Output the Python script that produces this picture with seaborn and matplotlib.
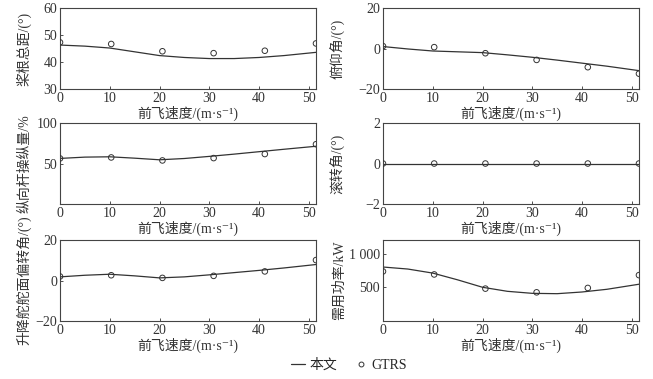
import numpy as np
import pandas as pd
import seaborn as sns
import matplotlib.pyplot as plt
from matplotlib.lines import Line2D
from matplotlib.transforms import ScaledTranslation

sns.set_style("ticks")
plt.rcParams['font.family'] = ['Liberation Serif', 'Noto Sans CJK SC', 'DejaVu Serif']

# скорости полёта (0..100 уз в м/с)
speed_pts = [0, 10.29, 20.58, 30.87, 41.16, 51.44]
speed_line = [0, 5, 10, 15, 20, 25, 30, 35, 40, 45, 51.44]

# данные GTRS (точки)
collective_pts = [47.3, 46.7, 44.0, 43.3, 44.2, 46.9]
pitch_pts = [1.2, 0.7, -2.3, -5.6, -9.2, -12.4]
stick_pts = [56.3, 57.5, 53.8, 56.7, 61.7, 73.8]
roll_pts = [0, 0, 0, 0, 0, 0]
elevator_pts = [2.0, 2.6, 1.3, 2.3, 4.5, 10.1]
power_pts = [735, 690, 480, 425, 490, 680]

# расчёт (линии)
collective_line = [46.3, 45.9, 45.2, 43.8, 42.4, 41.7, 41.3, 41.3, 41.7, 42.4, 43.6]
pitch_line = [1.0, -0.2, -1.2, -1.6, -2.0, -3.1, -4.3, -5.7, -7.2, -8.7, -10.9]
stick_line = [56.3, 57.9, 58.3, 56.6, 54.6, 56.2, 58.8, 61.6, 64.6, 67.6, 71.3]
roll_line = [0, 0, 0, 0, 0, 0, 0, 0, 0, 0, 0]
elevator_line = [1.8, 2.6, 3.1, 2.3, 1.3, 1.8, 2.8, 3.9, 5.0, 6.2, 7.9]
power_line = [800, 770, 710, 610, 500, 440, 410, 405, 430, 470, 545]

panels = [
    ('桨根总距/(°)', collective_line, collective_pts, (30, 60), [30, 40, 50, 60]),
    ('俯仰角/(°)', pitch_line, pitch_pts, (-20, 20), [-20, 0, 20]),
    ('纵向杆操纵量/%', stick_line, stick_pts, (0, 100), [0, 50, 100]),
    ('滚转角/(°)', roll_line, roll_pts, (-2, 2), [-2, 0, 2]),
    ('升降舵舵面偏转角/(°)', elevator_line, elevator_pts, (-20, 20), [-20, 0, 20]),
    ('需用功率/kW', power_line, power_pts, (0, 1200), [0, 500, 1000]),
]

fig = plt.figure(figsize=(6.53, 3.79), dpi=100)
lefts = [0.0919, 0.5865]
bottoms = [0.765, 0.4617, 0.153]
label_x = [-0.113, -0.145]
line_c = '#333333'
fs = 10

for i, (ylab, yl, yp, ylim, yt) in enumerate(panels):
    row, col = divmod(i, 2)
    ax = fig.add_axes([lefts[col], bottoms[row], 0.392, 0.2137])
    sns.lineplot(x=speed_line, y=yl, ax=ax, color=line_c, linewidth=0.9)
    sns.scatterplot(x=speed_pts, y=yp, ax=ax, marker='o', s=16,
                    facecolor='none', edgecolor=line_c, linewidth=0.7, zorder=3)
    ax.set_xlim(0, 51.44)
    ax.set_ylim(*ylim)
    ax.set_xticks([0, 10, 20, 30, 40, 50])
    ax.set_yticks(yt)
    if ylim[0] == 0:
        # общий "0" в углу
        ylabels = [''] + [f'{v:,}'.replace(',', ' ') for v in yt[1:]]
        ax.set_yticklabels(ylabels)
        ax.set_xticklabels(['0', '10', '20', '30', '40', '50'])
        lab = ax.get_xticklabels()[0]
        lab.set_transform(lab.get_transform() + ScaledTranslation(-7 / 72, 0, fig.dpi_scale_trans))
    else:
        ax.set_yticklabels([str(v).replace('-', '−') for v in yt])
    ax.tick_params(direction='in', length=2, width=0.6, labelsize=fs, pad=2, colors='#333333')
    for s in ax.spines.values():
        s.set_visible(True)
        s.set_linewidth(0.8)
        s.set_color('#444444')
    ax.set_xlabel('前飞速度/(m·s⁻¹)', fontsize=fs, labelpad=1, color='#333333')
    ax.set_ylabel(ylab, fontsize=fs, color='#333333')
    ax.yaxis.set_label_coords(label_x[col], 0.5)

handles = [
    Line2D([], [], color=line_c, linewidth=0.9),
    Line2D([], [], linestyle='none', marker='o', markersize=3.5,
           markerfacecolor='none', markeredgecolor=line_c, markeredgewidth=0.7),
]
fig.legend(handles, ['本文', 'GTRS'], loc='lower center', bbox_to_anchor=(0.535, -0.015),
           ncol=2, frameon=False, fontsize=fs, handlelength=1.0, handletextpad=0.3,
           columnspacing=1.2)

fig.savefig('out.png', dpi=100)
